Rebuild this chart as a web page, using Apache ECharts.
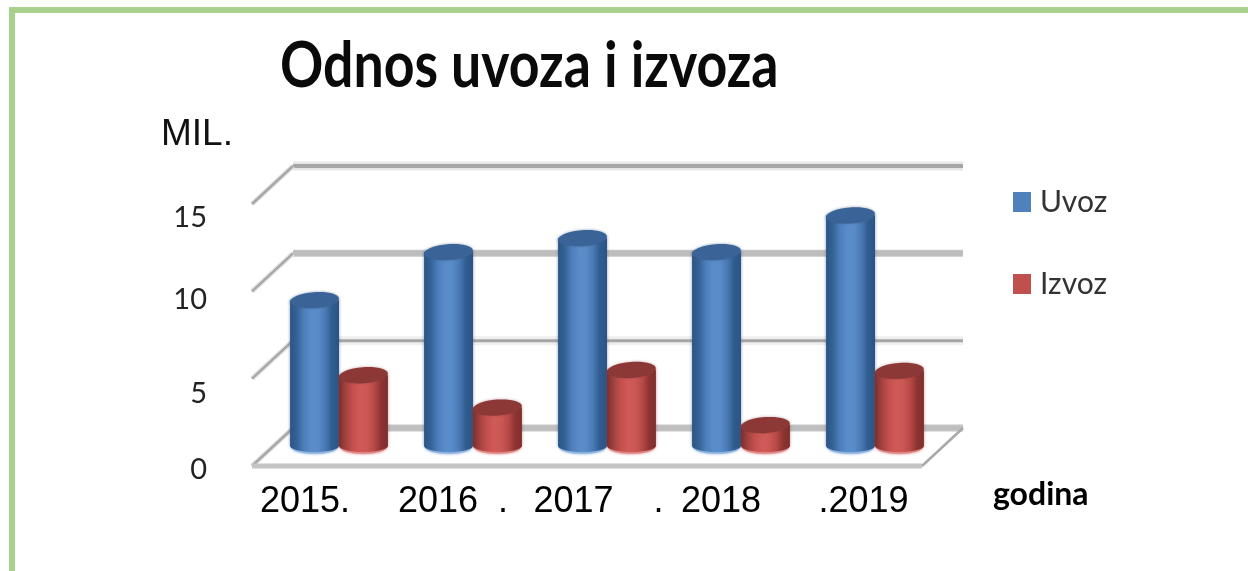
<!DOCTYPE html>
<html><head><meta charset="utf-8">
<style>html,body{margin:0;padding:0;background:#fff}#c{width:1248px;height:571px}</style>
<script src="https://cdn.jsdelivr.net/npm/echarts@6/dist/echarts.min.js"></script>
</head><body><div id="c"></div>
<script>
const categories = ['2015.', '2016  .', '2017    .', '2018', '.2019'];
const uvoz = [8.35, 11.1, 11.9, 11.1, 13.2];
const izvoz = [4.05, 2.2, 4.35, 1.2, 4.3];
const yTicks = [0, 5, 10, 15];
const titleText = 'Odnos uvoza i izvoza';
const yUnit = 'MIL.';
const xUnit = 'godina';

const chart = echarts.init(document.getElementById('c'));
const G = echarts.graphic;
const LG = (stops) => new G.LinearGradient(0, 0, 1, 0, stops.map((c, i) => ({offset: i / (stops.length - 1), color: c})));
const depthX = -41, depthY = 38;

const wallStyle = {
  0: {halo: 7, haloC: '#c6c6c6', core: 5, coreC: '#bfbfbf'},
  5: {halo: 9, haloC: '#efefef', core: 3, coreC: '#a6a6a6'},
  10: {halo: 7, haloC: '#c6c6c6', core: 5, coreC: '#bdbdbd'},
  15: {halo: 9, haloC: '#e6e6e6', core: 4, coreC: '#a6a6a6'}
};
function seg(x1, y1, x2, y2, w, c) {
  return {type: 'line', shape: {x1, y1, x2, y2}, style: {stroke: c, lineWidth: w, fill: null}};
}
function renderWall(params, api) {
  const v = api.value(0);
  const cs = params.coordSys;
  const y = api.coord([0, v])[1];
  const st = wallStyle[v];
  const kids = [
    seg(cs.x, y, cs.x + cs.width, y, st.halo, st.haloC),
    seg(cs.x, y, cs.x + cs.width, y, st.core, st.coreC),
    seg(cs.x + depthX, y + depthY, cs.x, y, 5, '#e4e4e4'),
    seg(cs.x + depthX, y + depthY, cs.x, y, 2.5, '#a8a8a8')
  ];
  if (v === 0) {
    kids.push(seg(cs.x + depthX, y + depthY, cs.x + cs.width + depthX, y + depthY, 5, '#c4c4c4'));
    kids.push(seg(cs.x + cs.width + depthX, y + depthY, cs.x + cs.width, y, 2.5, '#a8a8a8'));
  }
  return {type: 'group', children: kids};
}
function cyl(dir, pal) {
  return function (params, api) {
    const i = api.value(0), v = api.value(1);
    const band = api.size([1, 0])[0];
    const w = band * 0.365;
    const cx = api.coord([i, 0])[0] + dir * w / 2;
    const y0 = api.coord([i, 0])[1], y1 = api.coord([i, v])[1];
    const rx = w / 2, ry = 8;
    const side = LG(pal.side);
    return {type: 'group', children: [
      {type: 'ellipse', shape: {cx, cy: y0 + 1, rx: rx - 1, ry: ry - 1}, style: {fill: pal.glow, shadowBlur: 3, shadowColor: pal.glow}},
      {type: 'rect', shape: {x: cx - rx, y: y1, width: w, height: y0 - y1}, style: {fill: side, shadowBlur: 3, shadowColor: pal.halo}},
      {type: 'ellipse', shape: {cx, cy: y0, rx, ry: ry - 2}, style: {fill: side}},
      {type: 'ellipse', shape: {cx, cy: y1, rx, ry}, rotation: 0.07, originX: cx, originY: y1, style: {fill: pal.top, shadowBlur: 3, shadowColor: pal.halo}}
    ]};
  };
}
const bluePal = {side: ['#2b5484', '#356396', '#4d7fbc', '#5a8cca', '#5a8cca', '#4a7ab5', '#2f5c8f', '#2b5484'], top: '#3a6497', glow: '#8fb4e0', halo: 'rgba(60,90,130,0.6)'};
const redPal = {side: ['#7e2e2c', '#a24240', '#c4504e', '#cf5a57', '#cc5855', '#b84a48', '#8e3432', '#7e2e2c'], top: '#8c3836', glow: '#e08a88', halo: 'rgba(140,60,60,0.5)'};

const labelNudge = {'15': 14, '10': 8, '5': 15, '0': 4};
const xNudge = ['l', 'c', 'm', 'c', 'r'];
const fontMain = 'Liberation Sans';
const xRich = (pad) => ({padding: pad, fontSize: 36, fontFamily: fontMain, color: '#000'});

chart.setOption({
  animation: false,
  backgroundColor: '#fff',
  title: [
    {text: yUnit, left: 156, top: 111, textStyle: {fontFamily: fontMain, fontWeight: 'normal', fontSize: 37, color: '#111'}},
    {text: xUnit, left: 988, top: 474, textStyle: {fontFamily: 'Lato', fontWeight: 'bold', fontSize: 32, color: '#000'}}
  ],
  legend: {
    data: ['Uvoz', 'Izvoz'], orient: 'vertical', left: 1008, top: 182, itemWidth: 18, itemHeight: 20, itemGap: 52, icon: 'rect',
    textStyle: {fontFamily: 'Lato', fontSize: 30, color: '#333', padding: [0, 0, 0, 4]}
  },
  graphic: [
    {type: 'rect', silent: true, z: -1, shape: {x: 12, y: 10, width: 1300, height: 640}, style: {fill: '#fff', stroke: '#a9d18e', lineWidth: 6}},
    {type: 'text', silent: true, z: 10, x: 280, y: 66, scaleX: 0.838, style: {text: titleText, font: 'bold 64px Lato', fill: '#0a0a0a', verticalAlign: 'middle'}}
  ],
  grid: [
    {left: 293, width: 670, top: 166, height: 262},
    {left: 252, width: 670, top: 204, height: 262},
    {left: 272, width: 670, top: 184, height: 262}
  ],
  xAxis: [
    {gridIndex: 0, type: 'category', data: categories, show: false},
    {gridIndex: 1, type: 'category', data: categories, axisLine: {show: false}, axisTick: {show: false},
      axisLabel: {margin: 18, interval: 0, color: '#000', fontFamily: fontMain, fontSize: 36,
        formatter: (val, i) => '{' + xNudge[i] + '|' + val + '}',
        rich: {l: xRich([0, 28, 0, 0]), c: xRich(0), m: xRich([0, 0, 0, 23]), r: xRich([0, 0, 0, 17])}}},
    {gridIndex: 2, type: 'category', data: categories, show: false}
  ],
  yAxis: [
    {gridIndex: 0, type: 'value', min: 0, max: 15, interval: 5, show: false},
    {gridIndex: 1, type: 'value', min: 0, max: 15, interval: 5, splitLine: {show: false}, axisLine: {show: false}, axisTick: {show: false},
      axisLabel: {margin: 45, fontFamily: 'Lato', fontSize: 29, color: '#222',
        formatter: (v) => '{n' + v + '|' + v + '}',
        rich: Object.fromEntries(yTicks.map(t => ['n' + t, {fontSize: 29, fontFamily: 'Lato', color: '#222', padding: [labelNudge[t] * 2, 0, 0, 0]}]))}},
    {gridIndex: 2, type: 'value', min: 0, max: 15, interval: 5, show: false}
  ],
  series: [
    {type: 'custom', name: 'wall', xAxisIndex: 0, yAxisIndex: 0, silent: true, z: 1, data: yTicks.map(v => [v]), encode: {y: 0}, renderItem: renderWall},
    {type: 'custom', name: 'Uvoz', xAxisIndex: 2, yAxisIndex: 2, z: 3, itemStyle: {color: '#4f81bd'}, data: uvoz.map((v, i) => [i, v]), encode: {x: 0, y: 1}, renderItem: cyl(-1, bluePal)},
    {type: 'custom', name: 'Izvoz', xAxisIndex: 2, yAxisIndex: 2, z: 4, itemStyle: {color: '#c0504d'}, data: izvoz.map((v, i) => [i, v]), encode: {x: 0, y: 1}, renderItem: cyl(1, redPal)}
  ]
});
</script></body></html>
